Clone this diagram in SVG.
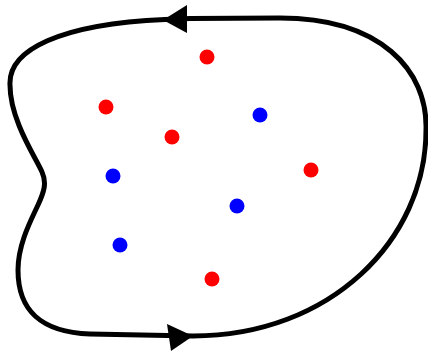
<svg xmlns="http://www.w3.org/2000/svg" width="428" height="353" viewBox="0 0 428 353">
<style>
.curve{fill:none;stroke:#000;stroke-width:5;stroke-linejoin:round}
.head{fill:#000}
.red{fill:#ff0000}
.blue{fill:#0000ff}
</style>
<rect width="428" height="353" fill="#fff"/>
<g id="connectors">
<path class="curve" d="M165,19.5 L190,18.5 L280,18 C380,18 428,70 426,130 C426,240 330,336 193,336 L90,334 C40,332 18,310 18,270 C18,245 30,222 38,205 C44,192 47,183 42,172 C36,158 10,120 10,85 C8,50 60,24 165,19.5"/>
<polygon class="head" points="163,20 187,5 187,33"/>
<polygon class="head" points="193,336 167,324 171,351"/>
</g>
<g id="points">
<circle id="r1" class="red" cx="207" cy="57" r="7.5"/>
<circle id="r2" class="red" cx="106" cy="107" r="7.5"/>
<circle id="b1" class="blue" cx="260" cy="115" r="7.5"/>
<circle id="r3" class="red" cx="172" cy="137" r="7.5"/>
<circle id="r4" class="red" cx="311" cy="170" r="7.5"/>
<circle id="b2" class="blue" cx="113" cy="176" r="7.5"/>
<circle id="b3" class="blue" cx="237" cy="206" r="7.5"/>
<circle id="b4" class="blue" cx="120" cy="245" r="7.5"/>
<circle id="r5" class="red" cx="212" cy="279" r="7.5"/>
</g>
</svg>
